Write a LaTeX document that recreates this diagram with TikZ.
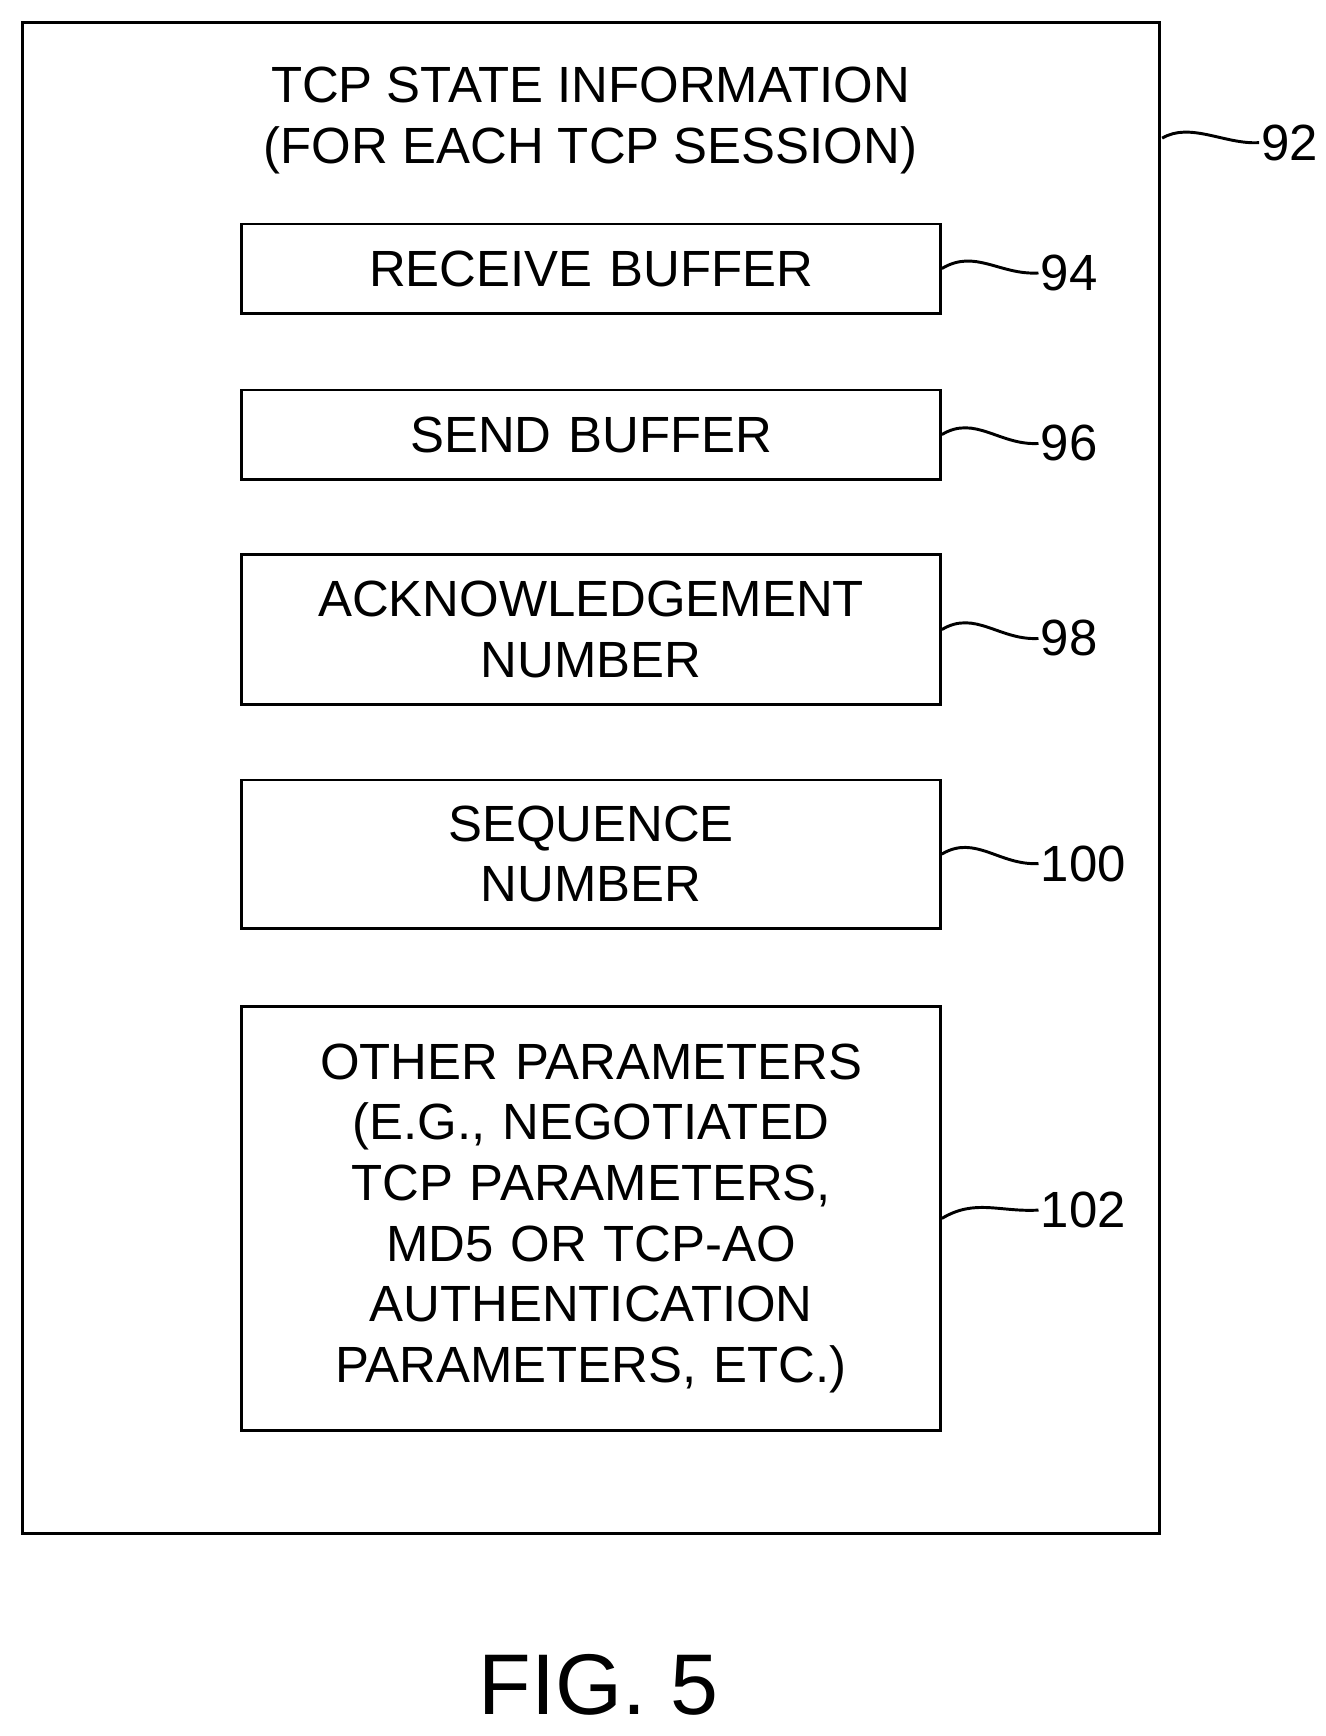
\documentclass[tikz,border=0pt]{standalone}
\usepackage{fontspec}
\setmainfont{Liberation Sans}
\usetikzlibrary{positioning}
\tikzset{
  field/.style={draw,line width=1.5pt,minimum width=12.54cm,text width=12cm,align=center,font=\fontsize{26}{31}\selectfont},
  refnum/.style={font=\fontsize{26}{31}\selectfont,inner sep=1pt},
  squiggle/.style={line width=1.5pt}
}
\begin{document}
\begin{tikzpicture}[x=0.02cm,y=-0.02cm]
\useasboundingbox (0,0) rectangle (1190,1558);
\draw[line width=1.5pt] (20,20) rectangle (1041,1376);
\node[font=\fontsize{26}{31}\selectfont,align=center] (title) at (530,108) {TCP STATE INFORMATION\\(FOR EACH TCP SESSION)};

\node[field,minimum height=1.6cm] (rb) at (530.5,241) {RECEIVE BUFFER};
\node[field,minimum height=1.6cm] (sb) at (530.5,390) {SEND BUFFER};
\node[field,minimum height=2.68cm] (ack) at (530.5,565) {ACKNOWLEDGEMENT\\NUMBER};
\node[field,minimum height=2.66cm] (seq) at (530.5,766.5) {SEQUENCE\\NUMBER};
\node[field,minimum height=7.62cm] (other) at (530.5,1093.5) {OTHER PARAMETERS\\(E.G., NEGOTIATED\\TCP PARAMETERS,\\MD5 OR TCP-AO\\AUTHENTICATION\\PARAMETERS, ETC.)};

\node[refnum,anchor=west] (n92) at (1130,128) {92};
\node[refnum,anchor=west] (n94) at (932,245) {94};
\node[refnum,anchor=west] (n96) at (932,398) {96};
\node[refnum,anchor=west] (n98) at (932,573) {98};
\node[refnum,anchor=west] (n100) at (932,775) {100};
\node[refnum,anchor=west] (n102) at (932,1086) {102};

\coordinate (c92) at (1043,124);
\draw[squiggle] (c92) .. controls +(25,-15) and +(-30,2) .. (n92.west);
\foreach \b/\n in {rb/n94,sb/n96,ack/n98,seq/n100,other/n102}
  \draw[squiggle] (\b.east) .. controls +(30,-18) and +(-35,2) .. (\n.west);

\node[font=\fontsize{44}{48}\selectfont] (fig) at (537,1512) {FIG. 5};
\end{tikzpicture}
\end{document}
